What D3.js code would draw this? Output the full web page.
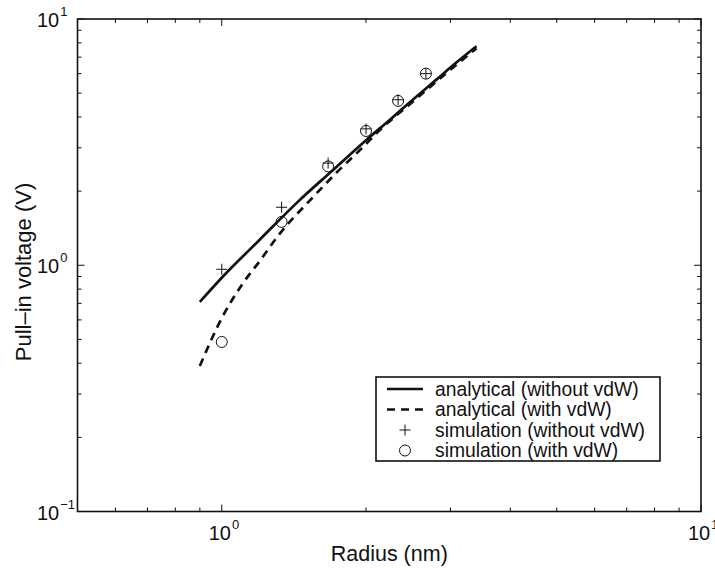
<!DOCTYPE html>
<html>
<head>
<meta charset="utf-8">
<script src="https://cdn.jsdelivr.net/npm/d3@7/dist/d3.min.js"></script>
<style>
body { margin: 0; background: #fff; }
text { font-family: "Liberation Sans", Arial, Helvetica, sans-serif; fill: #111; }
</style>
</head>
<body>
<div id="chart"></div>
<script>
// analytical curves
var radiusNoVdw = [0.9, 1.0, 1.2, 1.45, 1.7, 2.0, 2.25, 2.5, 2.8, 3.1, 3.4];
var voltNoVdw   = [0.71, 0.89, 1.27, 1.83, 2.42, 3.22, 3.92, 4.69, 5.66, 6.70, 7.75];
var radiusVdw   = [0.9, 1.0, 1.1, 1.2, 1.32, 1.55, 1.74, 1.94, 2.14, 2.5, 2.9, 3.4];
var voltVdw     = [0.39, 0.61, 0.83, 1.04, 1.34, 1.89, 2.39, 2.93, 3.55, 4.6, 5.89, 7.6];
// simulation points
var simRadius   = [1.0, 1.333, 1.667, 2.0, 2.333, 2.667];
var simNoVdw    = [0.963, 1.72, 2.60, 3.58, 4.70, 6.0];
var simVdw      = [0.488, 1.50, 2.52, 3.51, 4.65, 6.0];

var xMajor = [1, 10];
var yMajor = [0.1, 1, 10];
var xMinor = [0.6, 0.7, 0.8, 0.9, 2, 3, 4, 5, 6, 7, 8, 9];
var yMinor = [0.2, 0.3, 0.4, 0.5, 0.6, 0.7, 0.8, 0.9, 2, 3, 4, 5, 6, 7, 8, 9];
var legendLabels = ["analytical (without vdW)", "analytical (with vdW)",
                    "simulation (without vdW)", "simulation (with vdW)"];

var W = 715, H = 572;
var m = {left: 77.5, right: 701, top: 19, bottom: 511.5};

var svg = d3.select("#chart").append("svg")
    .attr("width", W)
    .attr("height", H);

var x = d3.scaleLog().domain([0.5, 10]).range([m.left, m.right]);
var y = d3.scaleLog().domain([0.1, 10]).range([m.bottom, m.top]);

var ink = "#111";

// ticks on all four sides, pointing inward
function tickLines(vals, len) {
    var g = svg.append("g").attr("stroke", ink).attr("stroke-width", 1);
    vals.forEach(function (v) {
        var px = x(v);
        g.append("line").attr("x1", px).attr("x2", px).attr("y1", m.bottom).attr("y2", m.bottom - len);
        g.append("line").attr("x1", px).attr("x2", px).attr("y1", m.top).attr("y2", m.top + len);
    });
}
function tickLinesY(vals, len) {
    var g = svg.append("g").attr("stroke", ink).attr("stroke-width", 1);
    vals.forEach(function (v) {
        var py = y(v);
        g.append("line").attr("y1", py).attr("y2", py).attr("x1", m.left).attr("x2", m.left + len);
        g.append("line").attr("y1", py).attr("y2", py).attr("x1", m.right).attr("x2", m.right - len);
    });
}
tickLines(xMinor, 4);
tickLines(xMajor, 7);
tickLinesY(yMinor, 4);
tickLinesY(yMajor, 7);

// box
svg.append("rect")
    .attr("x", m.left).attr("y", m.top)
    .attr("width", m.right - m.left).attr("height", m.bottom - m.top)
    .attr("fill", "none").attr("stroke", ink).attr("stroke-width", 1.6);

// tick labels 10^n
function expOf(v) { return Math.round(Math.log10(v)); }
function expText(n) { return n < 0 ? "\u2212" + (-n) : String(n); }

xMajor.forEach(function (v) {
    var t = svg.append("text")
        .attr("x", x(v) - 13).attr("y", 540)
        .attr("font-size", 20);
    t.append("tspan").text("10");
    t.append("tspan").attr("dx", 1).attr("dy", -11).attr("font-size", 13).text(expText(expOf(v)));
});
yMajor.forEach(function (v) {
    var t = svg.append("text")
        .attr("x", 37).attr("y", y(v) + 8)
        .attr("font-size", 20);
    t.append("tspan").text("10");
    t.append("tspan").attr("dx", 1).attr("dy", -11).attr("font-size", 13).text(expText(expOf(v)));
});

// axis labels
svg.append("text")
    .attr("x", (m.left + m.right) / 2).attr("y", 561)
    .attr("text-anchor", "middle").attr("font-size", 21.5)
    .text("Radius (nm)");
svg.append("text")
    .attr("transform", "translate(31,272) rotate(-90)")
    .attr("text-anchor", "middle").attr("font-size", 22)
    .text("Pull\u2013in voltage (V)");

// curves
var line = d3.line()
    .x(function (d) { return x(d[0]); })
    .y(function (d) { return y(d[1]); })
    .curve(d3.curveMonotoneX);

svg.append("path")
    .datum(d3.zip(radiusNoVdw, voltNoVdw))
    .attr("d", line)
    .attr("fill", "none").attr("stroke", ink).attr("stroke-width", 2.7);

svg.append("path")
    .datum(d3.zip(radiusVdw, voltVdw))
    .attr("d", line)
    .attr("fill", "none").attr("stroke", ink).attr("stroke-width", 2.7)
    .attr("stroke-dasharray", "8,6");

// markers
function plus(g, cx, cy, s) {
    g.append("line").attr("x1", cx - s).attr("x2", cx + s).attr("y1", cy).attr("y2", cy);
    g.append("line").attr("x1", cx).attr("x2", cx).attr("y1", cy - s).attr("y2", cy + s);
}
var pg = svg.append("g").attr("stroke", ink).attr("stroke-width", 1);
simRadius.forEach(function (r, i) {
    plus(pg, x(r), y(simNoVdw[i]), 5.5);
});
svg.append("g").selectAll("circle")
    .data(d3.zip(simRadius, simVdw))
    .enter().append("circle")
    .attr("cx", function (d) { return x(d[0]); })
    .attr("cy", function (d) { return y(d[1]); })
    .attr("r", 5.5)
    .attr("fill", "none").attr("stroke", ink).attr("stroke-width", 1);

// legend
var lg = svg.append("g");
lg.append("rect")
    .attr("x", 376).attr("y", 377).attr("width", 284).attr("height", 84)
    .attr("fill", "#fff").attr("stroke", ink).attr("stroke-width", 1.6);
var rowY = [389, 409.5, 430, 450.5];
legendLabels.forEach(function (s, i) {
    lg.append("text")
        .attr("x", 435).attr("y", rowY[i] + 6.5)
        .attr("font-size", 19.3)
        .text(s);
});
lg.append("line").attr("x1", 387).attr("x2", 423).attr("y1", rowY[0]).attr("y2", rowY[0])
    .attr("stroke", ink).attr("stroke-width", 2.7);
lg.append("line").attr("x1", 387).attr("x2", 423).attr("y1", rowY[1]).attr("y2", rowY[1])
    .attr("stroke", ink).attr("stroke-width", 2.7).attr("stroke-dasharray", "8,6");
var lp = lg.append("g").attr("stroke", ink).attr("stroke-width", 1);
plus(lp, 405, rowY[2], 5.5);
lg.append("circle").attr("cx", 405).attr("cy", rowY[3]).attr("r", 5.5)
    .attr("fill", "none").attr("stroke", ink).attr("stroke-width", 1);
</script>
</body>
</html>
